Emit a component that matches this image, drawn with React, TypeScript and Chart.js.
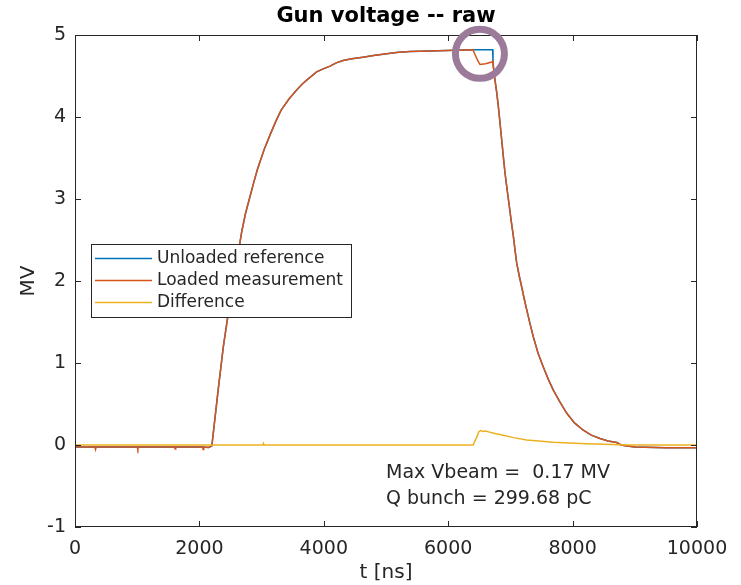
import React, { useEffect, useRef } from "react";
import { Chart, registerables } from "chart.js";

Chart.register(...registerables);

// ---------- data ----------
const timeNs = [
  0, 320, 330, 340, 1000, 1010, 1020, 1600, 1610, 1620, 2050, 2060, 2070, 2150, 2200,
  2300, 2385, 2455, 2550, 2680, 2740, 2803, 2870, 2932, 3040, 3146, 3230, 3312, 3440,
  3564, 3650, 3725, 3885, 4000, 4100, 4200, 4309, 4450, 4630, 4800, 5011, 5200, 5386,
  5700, 5976, 6400, 6420, 6480, 6511, 6600, 6700, 6715, 6720, 6752, 6780, 6806, 6833,
  6860, 6886, 6913, 6948, 6983, 7015, 7047, 7074, 7101, 7140, 7181, 7220, 7262, 7315,
  7368, 7445, 7529, 7610, 7690, 7800, 7904, 8030, 8172, 8300, 8441, 8570, 8709, 8780,
  8850, 9000, 9500, 10000,
];

const unloadedMV = [
  -0.025, -0.025, -0.025, -0.025, -0.025, -0.025, -0.025, -0.025, -0.025, -0.025, -0.025,
  -0.025, -0.025, -0.03, -0.01,
  0.66, 1.2, 1.56, 2.0, 2.6, 2.82, 3.0, 3.19, 3.36, 3.6, 3.8, 3.95, 4.08, 4.22,
  4.33, 4.4, 4.45, 4.55, 4.59, 4.62, 4.66, 4.69, 4.71, 4.73, 4.75, 4.77, 4.79, 4.8,
  4.805, 4.81, 4.82, 4.82, 4.82, 4.82, 4.82, 4.82, 4.82, 4.66, 4.45, 4.3, 4.13, 3.93,
  3.72, 3.52, 3.32, 3.11, 2.91, 2.72, 2.55, 2.38, 2.22, 2.07, 1.93, 1.79, 1.65, 1.48,
  1.32, 1.12, 0.95, 0.8, 0.67, 0.52, 0.39, 0.27, 0.18, 0.12, 0.08, 0.05, 0.03, 0.0,
  -0.01, -0.025, -0.035, -0.035,
];

const loadedMV = [
  -0.025, -0.025, -0.055, -0.025, -0.025, -0.05, -0.025, -0.025, -0.05, -0.025, -0.025,
  -0.055, -0.025, -0.03, -0.01,
  0.66, 1.2, 1.56, 2.0, 2.6, 2.82, 3.0, 3.19, 3.36, 3.6, 3.8, 3.95, 4.08, 4.22,
  4.33, 4.4, 4.45, 4.55, 4.59, 4.62, 4.66, 4.69, 4.71, 4.73, 4.75, 4.77, 4.79, 4.8,
  4.805, 4.81, 4.82, 4.78, 4.68, 4.64, 4.65, 4.67, 4.68, 4.65, 4.45, 4.3, 4.13, 3.93,
  3.72, 3.52, 3.32, 3.11, 2.91, 2.72, 2.55, 2.38, 2.22, 2.07, 1.93, 1.79, 1.65, 1.48,
  1.32, 1.12, 0.95, 0.8, 0.67, 0.52, 0.39, 0.27, 0.18, 0.12, 0.08, 0.05, 0.03, 0.0,
  -0.01, -0.025, -0.035, -0.035,
];

const diffTimeNs = [
  0, 3020, 3030, 3040, 6400, 6450, 6490, 6520, 6560, 6600, 6650, 6750, 6886, 7050, 7262,
  7500, 7685, 7950, 8226, 8500, 8760, 8900, 10000,
];

const differenceMV = [
  0, 0, 0.02, 0, 0, 0.08, 0.16, 0.175, 0.165, 0.17, 0.16, 0.14, 0.12, 0.09, 0.06, 0.045,
  0.034, 0.025, 0.015, 0.008, 0.003, 0, 0,
];

const seriesLabels = ["Unloaded reference", "Loaded measurement", "Difference"];
const seriesColors = ["#0072BD", "#D95319", "#EDB120"];
const xTickValues = [0, 2000, 4000, 6000, 8000, 10000];
const yTickValues = [-1, 0, 1, 2, 3, 4, 5];
const titleText = "Gun voltage -- raw";
const xLabel = "t [ns]";
const yLabel = "MV";
const noteLines = ["Max Vbeam =  0.17 MV", "Q bunch = 299.68 pC"];
const noteAnchor = { t: 5000, v: [-0.34, -0.66] };
const highlight = { t: 6510, v: 4.77 };

// ---------- styling ----------
const FONT = '"DejaVu Sans", sans-serif';
const AXIS_COLOR = "#262626";

const overlayPlugin = {
  id: "matlabOverlay",
  afterDraw(chart: any) {
    const { ctx, chartArea: a, scales } = chart;
    const xs = scales.x;
    const ys = scales.y;
    ctx.save();

    // axes box
    ctx.strokeStyle = AXIS_COLOR;
    ctx.lineWidth = 1;
    ctx.strokeRect(a.left + 0.5, a.top + 0.5, a.right - a.left - 1, a.bottom - a.top - 1);

    // inward tick marks
    const TL = 6;
    ctx.beginPath();
    xTickValues.forEach((v) => {
      const px = Math.round(xs.getPixelForValue(v)) + 0.5;
      ctx.moveTo(px, a.bottom);
      ctx.lineTo(px, a.bottom - TL);
      ctx.moveTo(px, a.top);
      ctx.lineTo(px, a.top + TL);
    });
    yTickValues.forEach((v) => {
      const py = Math.round(ys.getPixelForValue(v)) + 0.5;
      ctx.moveTo(a.left, py);
      ctx.lineTo(a.left + TL, py);
      ctx.moveTo(a.right, py);
      ctx.lineTo(a.right - TL, py);
    });
    ctx.stroke();

    // annotation text
    ctx.fillStyle = AXIS_COLOR;
    ctx.font = `19px ${FONT}`;
    ctx.textAlign = "left";
    ctx.textBaseline = "middle";
    const nx = xs.getPixelForValue(noteAnchor.t);
    noteLines.forEach((line, i) => {
      ctx.fillText(line, nx, ys.getPixelForValue(noteAnchor.v[i]));
    });

    // legend
    const lx = 91.5, ly = 244.5, lw = 260, lh = 73;
    ctx.fillStyle = "#ffffff";
    ctx.fillRect(lx, ly, lw, lh);
    ctx.strokeStyle = AXIS_COLOR;
    ctx.lineWidth = 1;
    ctx.strokeRect(lx, ly, lw, lh);
    ctx.font = `17px ${FONT}`;
    ctx.textBaseline = "middle";
    chart.data.datasets.forEach((ds: any, i: number) => {
      const ry = 258.5 + i * 22;
      ctx.strokeStyle = ds.borderColor;
      ctx.lineWidth = 1.5;
      ctx.beginPath();
      ctx.moveTo(95, ry);
      ctx.lineTo(152, ry);
      ctx.stroke();
      ctx.fillStyle = AXIS_COLOR;
      ctx.fillText(ds.label, 157, ry);
    });

    // highlight circle
    ctx.strokeStyle = "#9b7b99";
    ctx.lineWidth = 7;
    ctx.beginPath();
    ctx.arc(xs.getPixelForValue(highlight.t), ys.getPixelForValue(highlight.v), 24.5, 0, Math.PI * 2);
    ctx.stroke();

    // title
    ctx.fillStyle = "#000000";
    ctx.font = `bold 21px ${FONT}`;
    ctx.textAlign = "center";
    ctx.textBaseline = "alphabetic";
    ctx.fillText(titleText, (a.left + a.right) / 2, 22);

    // axis labels
    ctx.fillStyle = AXIS_COLOR;
    ctx.font = `20px ${FONT}`;
    ctx.textBaseline = "middle";
    ctx.fillText(xLabel, (a.left + a.right) / 2, 573);
    ctx.save();
    ctx.translate(29, (a.top + a.bottom) / 2);
    ctx.rotate(-Math.PI / 2);
    ctx.fillText(yLabel, 0, 0);
    ctx.restore();

    ctx.restore();
  },
};

export default function App() {
  const canvasRef = useRef<HTMLCanvasElement | null>(null);

  useEffect(() => {
    document.body.style.margin = "0";
    const canvas = canvasRef.current;
    if (!canvas) return;
    const toPoints = (xs: number[], ys: number[]) => xs.map((x, i) => ({ x, y: ys[i] }));
    const chart = new Chart(canvas, {
      type: "line",
      data: {
        datasets: [
          { label: seriesLabels[0], data: toPoints(timeNs, unloadedMV), borderColor: seriesColors[0], order: 3 },
          { label: seriesLabels[1], data: toPoints(timeNs, loadedMV), borderColor: seriesColors[1], order: 2 },
          { label: seriesLabels[2], data: toPoints(diffTimeNs, differenceMV), borderColor: seriesColors[2], order: 1 },
        ].map((d) => ({ ...d, borderWidth: 1.5, pointRadius: 0, tension: 0, fill: false })),
      },
      options: {
        animation: false,
        responsive: false,
        devicePixelRatio: 1,
        events: [],
        layout: { padding: { left: 0, right: 44, top: 35, bottom: 0 } },
        plugins: {
          legend: { display: false },
          title: { display: false },
          tooltip: { enabled: false },
        },
        scales: {
          x: {
            type: "linear",
            min: 0,
            max: 10000,
            afterFit: (s: any) => { s.height = 58; },
            grid: { display: false, drawTicks: false },
            border: { display: false },
            afterBuildTicks: (s: any) => { s.ticks = xTickValues.map((v) => ({ value: v })); },
            ticks: {
              color: AXIS_COLOR,
              font: { family: FONT, size: 19 },
              padding: 11,
              maxRotation: 0,
              autoSkip: false,
              callback: (v: any) => String(v),
            },
          },
          y: {
            type: "linear",
            min: -1,
            max: 5,
            afterFit: (s: any) => { s.width = 75; },
            grid: { display: false, drawTicks: false },
            border: { display: false },
            afterBuildTicks: (s: any) => { s.ticks = yTickValues.map((v) => ({ value: v })); },
            ticks: {
              color: AXIS_COLOR,
              font: { family: FONT, size: 19 },
              padding: 9,
              autoSkip: false,
              callback: (v: any) => String(v),
            },
          },
        },
      },
      plugins: [overlayPlugin],
    } as any);
    return () => chart.destroy();
  }, []);

  return (
    <div style={{ width: 741, height: 585 }}>
      <canvas ref={canvasRef} width={741} height={585} />
    </div>
  );
}
